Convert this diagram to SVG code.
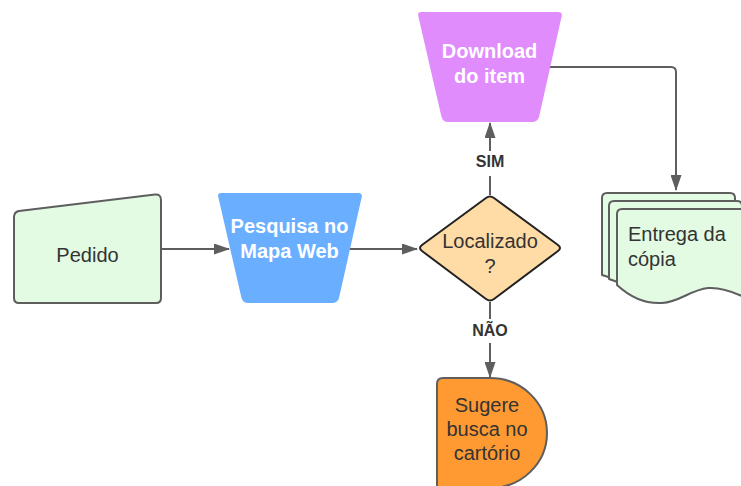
<svg xmlns="http://www.w3.org/2000/svg" width="741" height="486" viewBox="0 0 741 486">
<style>
  text { font-family: "Liberation Sans", Arial, sans-serif; font-size: 20px; fill: #333333; }
  .w { fill: #ffffff; font-weight: bold; }
  .lbl { font-size: 16px; font-weight: bold; fill: #333333; }
  .node { stroke: #5e5e5e; stroke-width: 2; stroke-linejoin: round; }
  .conn { fill: none; stroke: #5e5e5e; stroke-width: 2; }
</style>
<defs>
  <marker id="arr" viewBox="0 0 16 11" refX="15" refY="5.5" markerWidth="16" markerHeight="11" markerUnits="userSpaceOnUse" orient="auto">
    <path d="M0,0 L16,5.5 L0,11 Z" fill="#5e5e5e"/>
  </marker>
</defs>
<rect width="741" height="486" fill="#ffffff"/>

<g id="connectors">
  <path class="conn" d="M161,249 L229,249" marker-end="url(#arr)"/>
  <path class="conn" d="M348,249 L417,249" marker-end="url(#arr)"/>
  <path class="conn" d="M490,195 L490,176 M490,151 L490,123" marker-end="url(#arr)"/>
  <path class="conn" d="M490,302 L490,319 M490,343 L490,377" marker-end="url(#arr)"/>
  <path class="conn" d="M549,67 L671,67 Q676,67 676,72 L676,190" marker-end="url(#arr)"/>
  <text class="lbl" x="490" y="167" text-anchor="middle">SIM</text>
  <text class="lbl" x="490" y="336" text-anchor="middle">NÃO</text>
</g>

<g id="pedido">
  <path class="node" fill="#e3fae3" d="M19,211 L155,194.5 Q161,194 161,200 L161,298 Q161,303 156,303 L19,303 Q14,303 14,298 L14,217 Q14,212 19,211 Z"/>
  <text x="87.5" y="262" text-anchor="middle">Pedido</text>
</g>

<g id="pesquisa">
  <path fill="#6aafff" d="M221,193 L358,193 Q363,193 361.5,198 L339,298 Q337.5,303 332,303 L248,303 Q243,303 241.5,298 L218.5,198 Q217,193 221,193 Z"/>
  <text class="w" x="289.5" y="233" text-anchor="middle">Pesquisa no</text>
  <text class="w" x="289.5" y="258" text-anchor="middle">Mapa Web</text>
</g>

<g id="localizado">
  <path fill="#ffdba5" stroke="#222222" stroke-width="2" stroke-linejoin="round" d="M486,198 Q490,195 494,198 L558,245 Q562,248 558,251 L494,299 Q490,302 486,299 L422,251 Q418,248 422,245 Z"/>
  <text x="490" y="248" text-anchor="middle">Localizado</text>
  <text x="490" y="273" text-anchor="middle">?</text>
</g>

<g id="download">
  <path fill="#e08cfd" d="M421,12 L558,12 Q563,12 561.5,17 L539,117 Q537.5,122 532,122 L448,122 Q443,122 441.5,117 L418.5,17 Q417,12 421,12 Z"/>
  <text class="w" x="489.5" y="58" text-anchor="middle">Download</text>
  <text class="w" x="489.5" y="83" text-anchor="middle">do item</text>
</g>

<g id="entrega">
  <path class="node" fill="#e3fae3" d="M607,193 L730,193 Q735,193 735,198 L735,270 C720,266 705,262 690,268 C670,278 650,292 602,275 L602,198 Q602,193 607,193 Z"/>
  <path class="node" fill="#e3fae3" d="M614,201 L737,201 Q742,201 742,206 L742,278 C727,274 712,270 697,276 C677,286 657,298 609,279 L609,206 Q609,201 614,201 Z"/>
  <path class="node" fill="#e3fae3" d="M622,209 L745,209 Q750,209 750,214 L750,300 C735,292 722,287 708,288 C690,290 680,302 662,303 C645,304 630,297 617,285 L617,214 Q617,209 622,209 Z"/>
  <text x="628" y="241">Entrega da</text>
  <text x="628" y="266">cópia</text>
</g>

<g id="sugere">
  <path class="node" fill="#ff9a33" d="M443,378 L490,378 A57,55 0 0 1 490,488 L437,488 L437,384 Q437,378 443,378 Z"/>
  <text x="487" y="412" text-anchor="middle">Sugere</text>
  <text x="487" y="436" text-anchor="middle">busca no</text>
  <text x="487" y="460" text-anchor="middle">cartório</text>
</g>
</svg>
